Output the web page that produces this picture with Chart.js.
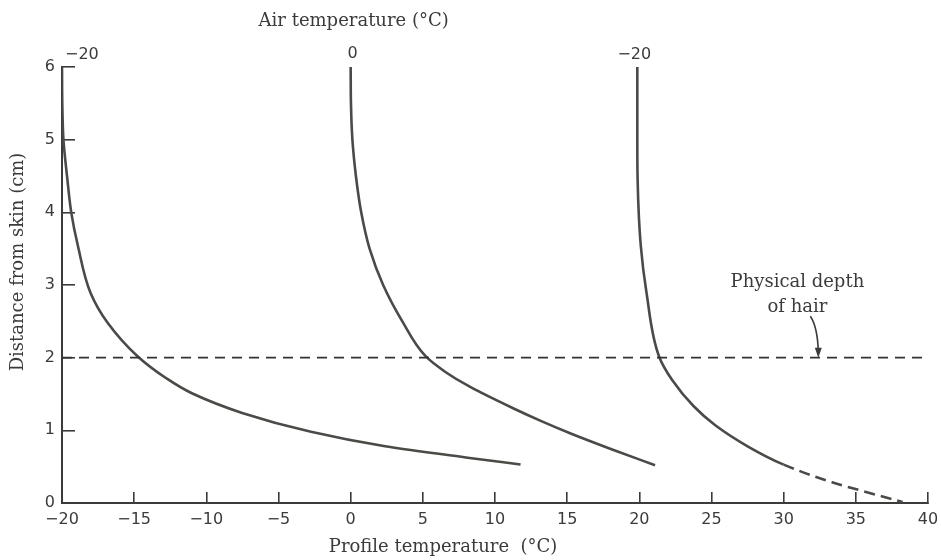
<!DOCTYPE html>
<html>
<head>
<meta charset="utf-8">
<script src="https://cdn.jsdelivr.net/npm/chart.js@4.4.1/dist/chart.umd.min.js"></script>
<style>
  body { margin: 0; background: #fff; }
  canvas { display: block; }
</style>
</head>
<body>
<canvas id="myChart" width="941" height="560"></canvas>
<script>
// profile curves, one per air temperature (x = profile temp, y = distance from skin)
var depth1 = [6, 5.5, 5, 4.46, 4, 3.54, 2.89, 2.48, 2.02, 1.72, 1.51, 1.24, 0.98, 0.78, 0.62, 0.53];
var temp1 = [-20, -19.98, -19.9, -19.63, -19.36, -18.9, -18.02, -16.84, -14.77, -12.8, -11.0, -7.52, -2.75, 2.39, 8.24, 11.77];

var depth2 = [6, 5.5, 5, 4.49, 4, 3.5, 3, 2.51, 2.02, 1.8, 1.6, 1.3, 1.13, 0.96, 0.74, 0.52];
var temp2 = [0, 0.02, 0.12, 0.37, 0.73, 1.31, 2.25, 3.55, 5.19, 6.59, 8.25, 11.29, 13.17, 15.2, 18.07, 21.09];

var depth3 = [6, 5, 4.46, 3.54, 2.89, 2.02, 1.70, 1.335, 1.07, 0.774, 0.528, 0.287, 0.014];
var temp3 = [19.86, 19.86, 19.88, 20.1, 20.5, 21.36, 22.25, 23.75, 25.26, 27.56, 30.0, 33.35, 38.24];
var dash3From = 10; // extrapolated part drawn dashed

// air temperature labels on top of each curve
var airLabels = ['\u221220', '0', '\u221220'];
var airAt = [-20, 0, 20];

// hair depth line
var hairDepth = 2;
var hairLineX = [-20, 40];

const ink = '#3b3b3a';
const curveColor = '#4a4a47';
const serif = '"DejaVu Serif", serif';
const sans = '"DejaVu Sans", sans-serif';

function pts(xs, ys) {
  return xs.map((x, i) => ({ x: x, y: ys[i] }));
}

const labelsPlugin = {
  id: 'labels',
  afterDraw(chart) {
    const ctx = chart.ctx;
    const xs = chart.scales.x;
    const ys = chart.scales.y;
    ctx.save();
    ctx.fillStyle = ink;
    ctx.textBaseline = 'middle';

    // titles
    ctx.font = '18px ' + serif;
    ctx.textAlign = 'center';
    ctx.fillText('Air temperature (\u00b0C)', xs.getPixelForValue(0) + 3, 21);
    ctx.fillText('Profile temperature  (\u00b0C)', xs.getPixelForValue(6.4), 547);
    ctx.save();
    ctx.translate(18, 262);
    ctx.rotate(-Math.PI / 2);
    ctx.fillText('Distance from skin (cm)', 0, 0);
    ctx.restore();

    // air temperature of each curve
    ctx.font = '16px ' + sans;
    airLabels.forEach((t, i) => {
      const px = xs.getPixelForValue(airAt[i]);
      if (i === 0) { ctx.textAlign = 'left'; ctx.fillText(t, px + 3, 55); }
      else if (i === 1) { ctx.textAlign = 'center'; ctx.fillText(t, px + 2, 54); }
      else { ctx.textAlign = 'center'; ctx.fillText(t, px - 5, 55); }
    });

    // hair depth note with arrow
    ctx.font = '18px ' + serif;
    ctx.textAlign = 'center';
    ctx.fillText('Physical depth', xs.getPixelForValue(30.95), ys.getPixelForValue(3.04));
    ctx.fillText('of hair', xs.getPixelForValue(30.95), ys.getPixelForValue(2.69));

    const x0 = xs.getPixelForValue(31.85), y0 = ys.getPixelForValue(2.57);
    const cx = xs.getPixelForValue(32.35), cy = ys.getPixelForValue(2.42);
    const x1 = xs.getPixelForValue(32.4), y1 = ys.getPixelForValue(hairDepth);
    ctx.strokeStyle = ink;
    ctx.lineWidth = 1.6;
    ctx.beginPath();
    ctx.moveTo(x0, y0);
    ctx.quadraticCurveTo(cx, cy, x1, y1 - 6);
    ctx.stroke();
    ctx.beginPath();
    ctx.moveTo(x1 - 3.5, y1 - 10);
    ctx.lineTo(x1 + 3.5, y1 - 10);
    ctx.lineTo(x1, y1);
    ctx.closePath();
    ctx.fill();
    ctx.restore();
  }
};

// curves are smoothed along the depth axis
const curve = (data, extra) => Object.assign({
  data: data,
  indexAxis: 'y',
  fill: false,
  borderColor: curveColor,
  borderWidth: 2.6,
  pointRadius: 0,
  cubicInterpolationMode: 'monotone'
}, extra || {});

const minusTick = v => v < 0 ? '\u2212' + Math.abs(v) : String(v);

new Chart('myChart', {
  type: 'line',
  data: {
    datasets: [
      {
        data: pts(hairLineX, [hairDepth, hairDepth]),
        borderColor: '#333',
        borderWidth: 1.7,
        borderDash: [10, 7],
        pointRadius: 0,
        fill: false
      },
      curve(pts(temp1, depth1)),
      curve(pts(temp2, depth2)),
      curve(pts(temp3, depth3), {
        segment: {
          borderDash: ctx => ctx.p0DataIndex >= dash3From ? [11, 6] : undefined
        }
      })
    ]
  },
  options: {
    responsive: false,
    animation: false,
    layout: { padding: { left: 0, right: 13, top: 67, bottom: 0 } },
    plugins: {
      legend: { display: false },
      tooltip: { enabled: false }
    },
    scales: {
      x: {
        type: 'linear',
        min: -20,
        max: 40,
        afterFit: s => { s.height = 57; s.paddingLeft = 0; s.paddingRight = 0; },
        border: { color: ink, width: 2 },
        grid: { drawOnChartArea: false, drawTicks: true, tickLength: -11, color: ink, lineWidth: 1.6 },
        ticks: {
          stepSize: 5,
          padding: 18,
          color: ink,
          font: { family: sans, size: 16 },
          callback: minusTick
        }
      },
      y: {
        type: 'linear',
        min: 0,
        max: 6,
        afterFit: s => { s.width = 62; s.paddingTop = 0; s.paddingBottom = 0; },
        border: { color: ink, width: 2 },
        grid: { drawOnChartArea: false, drawTicks: true, tickLength: -13, color: ink, lineWidth: 1.6 },
        ticks: {
          stepSize: 1,
          padding: 20,
          color: ink,
          font: { family: sans, size: 16 },
          callback: minusTick
        }
      }
    }
  },
  plugins: [labelsPlugin]
});
</script>
</body>
</html>
